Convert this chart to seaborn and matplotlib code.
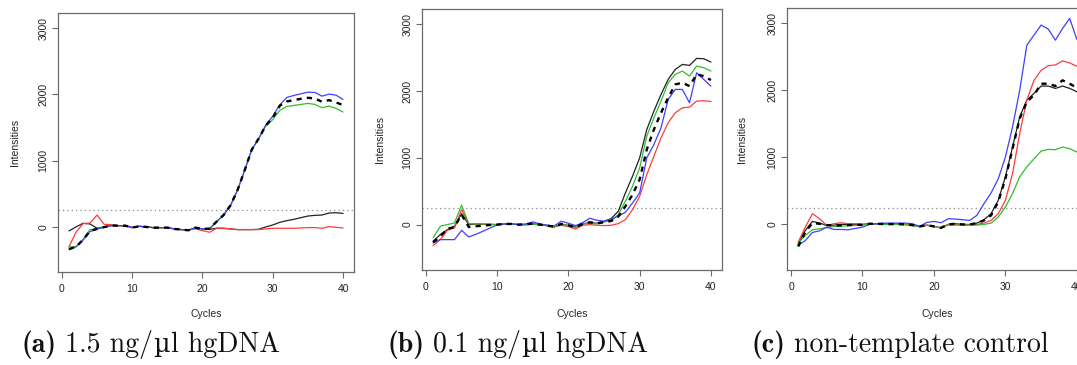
import numpy as np
import pandas as pd
import matplotlib
matplotlib.use("Agg")
import matplotlib.pyplot as plt
import seaborn as sns

# ---------------- data ----------------
cycles = list(range(1, 41))

a_blue = [-340,-300,-200,-70,-30,-5,20,20,20,-10, 10,0,-10,-10,-10,-30,-40,-50,-10,-30,
          -25,80,180,330,560,855,1165,1335,1540,1670, 1845,1955,1985,2010,2035,2030,1975,2005,1990,1925]
a_green = [-300,-300,-190,-40,-30,0,25,20,20,-10, 10,0,-10,-10,-10,-30,-40,-50,-10,-30,
           -25,75,175,325,560,855,1165,1335,1520,1620, 1760,1820,1835,1850,1865,1850,1800,1825,1790,1735]
a_mean = [-335,-300,-195,-60,-30,-3,22,20,20,-10, 10,0,-10,-10,-10,-30,-40,-50,-10,-30,
          -25,80,180,328,560,855,1165,1335,1530,1650, 1830,1895,1915,1935,1950,1940,1890,1915,1880,1840]
a_black = [-60,0,55,45,-20,0,20,20,20,-10, 10,0,-10,-10,-10,-30,-40,-50,-10,-30,
           -35,-20,-20,-30,-40,-40,-40,-35,0,30, 70,95,115,140,165,175,180,210,215,205]
a_red = [-300,-80,50,60,180,40,35,20,15,0, 10,0,-10,-10,-10,-30,-40,-45,-30,-55,
         -80,-20,-20,-30,-40,-40,-40,-40,-30,-20, -20,-20,-20,-15,-10,-10,-20,5,-5,-15]

b_black = [-250,-150,-75,-25,165,0,5,5,0,0, 10,10,0,0,10,0,-10,-30,0,-10,
           -35,10,30,20,50,90,200,475,725,1000, 1425,1700,1950,2175,2325,2400,2385,2490,2485,2435]
b_green = [-200,-25,0,25,290,15,10,10,5,0, 10,10,0,0,5,0,-20,-40,0,-20,
           -40,10,20,10,40,60,150,350,575,850, 1325,1600,1850,2125,2250,2300,2225,2375,2350,2300]
b_blue = [-275,-225,-225,-225,-85,-185,-145,-100,-50,-5, 10,10,0,10,40,10,-10,-20,50,20,
          -15,30,95,65,50,80,125,185,325,475, 1000,1200,1450,1875,2025,2025,1825,2275,2175,2075]
b_red = [-315,-225,-85,-50,225,15,10,10,5,0, 10,10,0,0,5,-5,-15,-30,-10,-30,
         -65,-10,0,-10,-15,-10,15,75,225,425, 750,1025,1300,1525,1675,1750,1760,1850,1855,1845]
b_mean = [-265,-175,-65,-35,150,-35,-25,-15,-5,0, 10,10,0,5,15,0,-15,-30,10,-10,
          -40,10,35,20,35,55,120,275,450,675, 1125,1425,1675,1900,2100,2125,2075,2250,2225,2165]

c_blue = [-314,-240,-120,-95,-40,-75,-75,-80,-60,-40, 0,10,20,20,20,20,10,-30,30,45,
          25,85,80,70,60,135,310,470,680,1005, 1455,2000,2675,2825,2975,2915,2750,2925,3075,2760]
c_red = [-264,-40,160,85,-15,10,25,10,10,0, 10,10,5,5,5,0,-10,-30,-10,-30,
         -50,0,0,-10,-10,0,20,60,160,360, 757,1355,1855,2150,2300,2370,2380,2440,2410,2360]
c_black = [-300,-90,45,20,-15,-10,0,0,0,0, 10,10,5,5,5,0,-10,-30,-10,-30,
           -50,0,10,0,0,20,70,160,360,710, 1155,1605,1855,1955,2065,2065,2030,2065,2030,1980]
c_green = [-280,-165,-80,-65,-50,-30,-25,-20,-15,-10, 5,5,0,0,0,-5,-15,-35,-15,-30,
           -55,-10,-10,-10,-10,-10,0,20,110,260, 460,710,860,980,1095,1120,1115,1155,1130,1080]
c_mean = [-330,-110,20,10,-10,-15,-15,-10,-5,-5, 10,10,5,5,5,0,-10,-30,-10,-30,
          -50,0,10,0,0,20,60,135,340,680, 1130,1580,1830,1930,2100,2100,2065,2150,2100,2040]

threshold = 250
xticks = [0, 10, 20, 30, 40]
yticks = [0, 1000, 2000, 3000]
# caption pieces: (text, kind) ; "µ" is drawn with a fallback serif face
captions = [
    [("(a)", "b"), ("1.5 ng/", "r"), ("µ", "u"), ("l hgDNA", "r")],
    [("(b)", "b"), ("0.1 ng/", "r"), ("µ", "u"), ("l hgDNA", "r")],
    [("(c)", "b"), ("non-template control", "r")],
]

panels = [
    {"black": a_black, "red": a_red, "green": a_green, "blue": a_blue, "mean": a_mean},
    {"black": b_black, "red": b_red, "green": b_green, "blue": b_blue, "mean": b_mean},
    {"black": c_black, "red": c_red, "green": c_green, "blue": c_blue, "mean": c_mean},
]

# ---------------- style ----------------
sns.set_style("white")
plt.rcParams["font.family"] = ["Liberation Sans", "DejaVu Sans"]

W, H = 1077, 365
fig = plt.figure(figsize=(W / 100, H / 100), dpi=100)

# axes boxes in pixels: left, top, right, bottom
boxes = [(58, 13, 354, 272), (422, 9, 722, 270), (787, 8, 1088, 270)]
ylabel_x = [20, 385, 747]

palette = {"black": "#222222", "red": "#ff3b3b", "green": "#2fbf2f", "blue": "#3f3fff"}
order = ["black", "red", "green", "blue"]
frame_col = "#6a6a6a"

for i, (pdata, box) in enumerate(zip(panels, boxes)):
    l, t, r, b = box
    ax = fig.add_axes([l / W, (H - b) / H, (r - l) / W, (b - t) / H])
    df = pd.DataFrame({
        "Cycle": np.tile(cycles, len(order)),
        "Intensity": np.concatenate([pdata[k] for k in order]),
        "series": np.repeat(order, len(cycles)),
    })
    ax.axhline(threshold, color="#8a8a8a", lw=0.9, ls=(0, (1, 2.5)), zorder=1)
    sns.lineplot(data=df, x="Cycle", y="Intensity", hue="series", hue_order=order,
                 palette=palette, estimator=None, sort=False, legend=False,
                 lw=0.9, ax=ax)
    dm = pd.DataFrame({"Cycle": cycles, "Intensity": pdata["mean"]})
    sns.lineplot(data=dm, x="Cycle", y="Intensity", color="black", lw=1.7,
                 dashes=False, ax=ax)
    ax.lines[-1].set_dashes((2.2, 2.2))

    ax.set_xlim(-0.56, 41.56)
    ax.set_ylim(-680, 3230)
    ax.set_xticks(xticks)
    ax.set_yticks(yticks)
    ax.tick_params(axis="both", direction="out", length=4, width=0.8,
                   color=frame_col, labelsize=7.5, labelcolor="#222222",
                   bottom=True, left=True)
    ax.tick_params(axis="x", pad=5)
    ax.tick_params(axis="y", pad=3, labelrotation=90)
    for lab in ax.get_yticklabels():
        lab.set_va("center")
    for s in ax.spines.values():
        s.set_color(frame_col)
        s.set_linewidth(0.9)
    ax.set_xlabel("Cycles", fontsize=7.5, color="#222222")
    ax.set_ylabel("Intensities", fontsize=7.5, color="#222222")
    ax.xaxis.set_label_coords(0.5, (b - 309) / (b - t))
    ax.yaxis.set_label_coords((ylabel_x[i] - l) / (r - l), 0.5)

# ---------------- captions ----------------
cap_left = [22, 388, 752]
cap_base = 352
cap_size = 20
fams = {"b": ["cmb10", "DejaVu Serif"], "r": ["cmr10", "DejaVu Serif"],
        "u": ["DejaVu Serif"]}
renderer = fig.canvas.get_renderer()
for pieces, x0 in zip(captions, cap_left):
    x = x0
    for j, (txt, kind) in enumerate(pieces):
        size = cap_size * (0.92 if kind == "u" else 1.0)
        tt = fig.text(x / W, (H - cap_base) / H, txt, fontsize=size,
                      family=fams[kind], va="baseline", ha="left", color="#111111")
        bb = tt.get_window_extent(renderer)
        x = bb.x1 + (8 if kind == "b" else 0.5)

fig.savefig("out.png", dpi=100)
